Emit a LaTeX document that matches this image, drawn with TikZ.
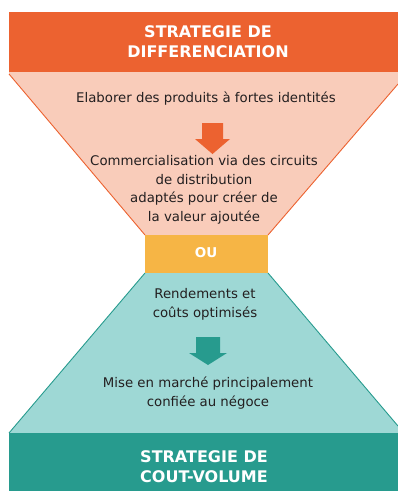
\documentclass[tikz,border=0pt]{standalone}
\usepackage{fontspec}
\setmainfont{DejaVu Sans}
\definecolor{orangeC}{HTML}{EC6230}
\definecolor{pinkC}{HTML}{F9CCBA}
\definecolor{ouC}{HTML}{F6B545}
\definecolor{tealL}{HTML}{9ED8D5}
\definecolor{tealD}{HTML}{279B8E}
\definecolor{textC}{HTML}{231F20}
\begin{document}
\begin{tikzpicture}[x=1pt,y=-1pt,
  bodytxt/.style={font=\fontsize{13.3}{18.5}\selectfont, text=textC, align=center, inner sep=0pt},
  headtxt/.style={font=\bfseries\fontsize{16}{20}\selectfont, text=white, align=center, inner sep=0pt},
  outxt/.style={font=\bfseries\fontsize{13.5}{15}\selectfont, text=white, inner sep=0pt},
  edgeline/.style={line width=0.9pt, line join=round}]
\useasboundingbox (0,0) rectangle (398,491);
% top bar
\fill[orangeC] (9,12) rectangle (398,72);
% pink funnel
\fill[pinkC] (9,72) -- (398,72) -- (398,84) -- (268,235) -- (145,235) -- (9,74) -- cycle;
\draw[orangeC, edgeline] (9,74) -- (145,235) (268,235) -- (398,84);
% OU box
\fill[ouC] (145,235) rectangle (268,273);
% teal funnel
\fill[tealL] (145,273) -- (268,273) -- (398,426) -- (398,433) -- (9,433) -- cycle;
\draw[tealD, edgeline] (145,273) -- (9,433) (268,273) -- (398,426);
% bottom bar
\fill[tealD] (9,433) rectangle (398,491);
% block arrows
\fill[orangeC] (202,123) -- (223,123) -- (223,139) -- (230,139) -- (212.5,154) -- (195,139) -- (202,139) -- cycle;
\fill[tealD] (196,337) -- (220,337) -- (220,353) -- (227,353) -- (208,365) -- (189,353) -- (196,353) -- cycle;
% texts
\node[headtxt] (h1) at (208,42) {STRATEGIE DE\\DIFFERENCIATION};
\node[bodytxt] (t1) at (206,99) {Elaborer des produits à fortes identités};
\node[bodytxt] (t2) at (204,190) {Commercialisation via des circuits\\de distribution\\adaptés pour créer de\\la valeur ajoutée};
\node[outxt] (ou) at (206,253) {OU};
\node[bodytxt] (t3) at (205,304.5) {Rendements et\\coûts optimisés};
\node[bodytxt] (t4) at (208,393) {Mise en marché principalement\\confiée au négoce};
\node[headtxt] (h2) at (204,467) {STRATEGIE DE\\COUT-VOLUME};
\end{tikzpicture}
\end{document}
